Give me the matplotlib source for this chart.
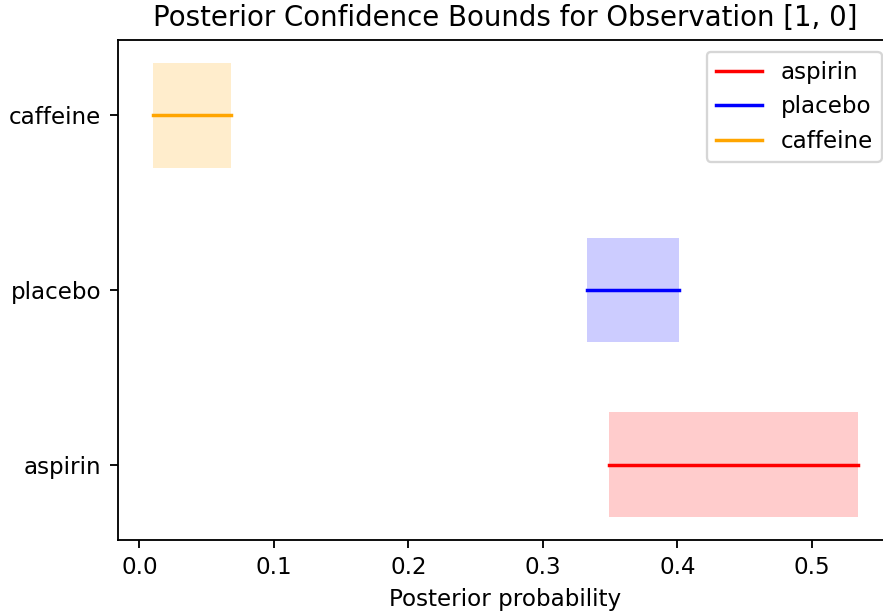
import matplotlib
matplotlib.use('Agg')
import matplotlib.pyplot as plt

# Posterior confidence bounds per treatment
treatments = ['aspirin', 'placebo', 'caffeine']
colors = ['red', 'blue', 'orange']
lower = [0.3494, 0.3328, 0.0099]
upper = [0.5344, 0.4012, 0.0678]

DPI = 166
fig = plt.figure(figsize=(883 / DPI, 613 / DPI), dpi=DPI)
# axes runs slightly past the right edge of the image, as in the original crop
ax = fig.add_axes([117.5 / 883, 73 / 613, 776 / 883, 500 / 613])

for i, (name, c, lo, hi) in enumerate(zip(treatments, colors, lower, upper)):
    ax.fill_betweenx([i - 0.3, i + 0.3], lo, hi, color=c, alpha=0.2, linewidth=0)
    ax.plot([lo, hi], [i, i], color=c, label=name)

ax.set_yticks(range(len(treatments)))
ax.set_yticklabels(treatments)
ax.set_xlabel('Posterior probability')
ax.set_title('Posterior Confidence Bounds for Observation [1, 0]')
ax.legend(loc='upper right')

fig.savefig('out.png', dpi=DPI)
